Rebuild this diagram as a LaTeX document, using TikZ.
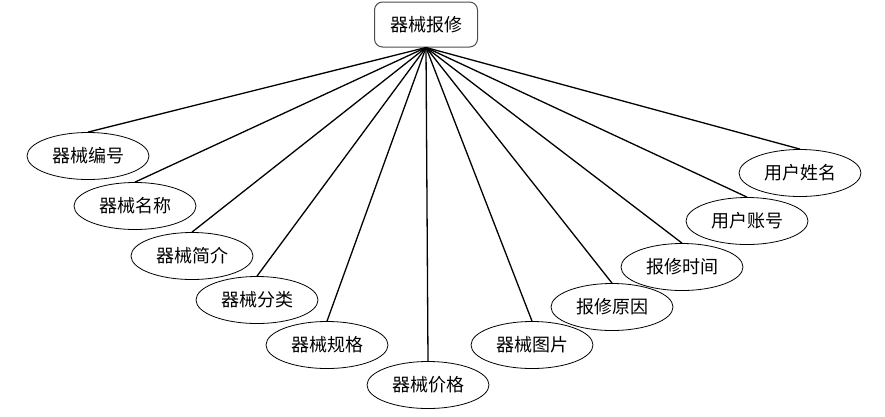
\documentclass[tikz,border=0pt]{standalone}
\usepackage{fontspec}
\setmainfont{Noto Sans CJK SC}
\usetikzlibrary{shapes.geometric}
\begin{document}
\begin{tikzpicture}[x=1pt,y=-1pt]
  \tikzstyle{entity}=[draw=black!70,rounded corners=8pt,line width=1pt,minimum width=103pt,minimum height=45pt,inner sep=0pt,font=\fontsize{18}{21}\selectfont]
  \tikzstyle{attr}=[ellipse,draw,line width=0.8pt,minimum width=122pt,minimum height=47pt,inner sep=0pt,font=\fontsize{18}{21}\selectfont]
  \tikzstyle{link}=[line width=1.3pt]
  \useasboundingbox (0,0) rectangle (885,416);

  \node[entity] (E-repair) at (426,24.5) {器械报修};

  \node[attr] (A-no) at (88,156) {器械编号};
  \node[attr] (A-name) at (135,206) {器械名称};
  \node[attr] (A-intro) at (192,256) {器械简介};
  \node[attr] (A-type) at (257,300) {器械分类};
  \node[attr] (A-spec) at (327,345) {器械规格};
  \node[attr] (A-price) at (428,385) {器械价格};
  \node[attr] (A-pic) at (532,345) {器械图片};
  \node[attr] (A-reason) at (612,307) {报修原因};
  \node[attr] (A-time) at (682,267) {报修时间};
  \node[attr] (A-user) at (747,221) {用户账号};
  \node[attr] (A-uname) at (800,173) {用户姓名};

  \foreach \a in {no,name,intro,type,spec,price,pic,reason,time,user,uname}
    \draw[link] (E-repair.south) -- (A-\a.north);

\end{tikzpicture}
\end{document}
